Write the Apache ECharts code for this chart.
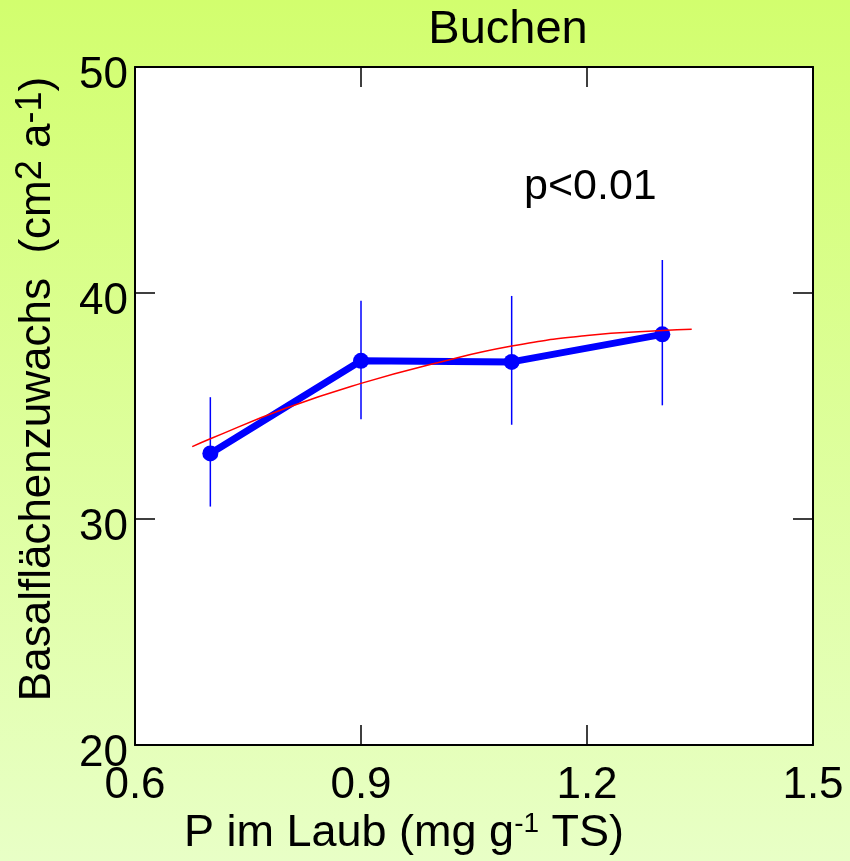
<!DOCTYPE html>
<html>
<head>
<meta charset="utf-8">
<script src="https://cdn.jsdelivr.net/npm/echarts@6/dist/echarts.min.js"></script>
<style>
  html, body { margin: 0; padding: 0; }
  body { width: 850px; height: 861px; background: linear-gradient(#d2fe6e, #e8ffc6); }
  #chart { width: 850px; height: 861px; }
</style>
</head>
<body>
<div id="chart"></div>
<script>
// P im Laub vs. Basalflächenzuwachs (Buchen)
const pLaub = [0.7, 0.9, 1.1, 1.3];
const zuwachs = [32.9, 37.0, 36.95, 38.17];
const errLow = [30.55, 34.41, 34.17, 35.03];
const errHigh = [35.39, 39.66, 39.87, 41.46];
const fitX = [0.676, 0.7, 0.8, 0.9, 1.0, 1.1, 1.2, 1.3, 1.339];
const fitY = [33.2, 33.55, 34.9, 36.0, 36.9, 37.65, 38.12, 38.34, 38.4];
const xTicks = [0.6, 0.9, 1.2, 1.5];
const yTicks = [20, 30, 40, 50];

const font = "'Liberation Sans', Arial, sans-serif";
const chart = echarts.init(document.getElementById("chart"), null, { renderer: "canvas" });

const frame = {
  axisLine: { show: true, onZero: false, lineStyle: { color: "#000", width: 2 } },
  axisTick: { show: true, inside: true, length: 20, lineStyle: { color: "#000", width: 1.5 } },
  splitLine: { show: false },
};

chart.setOption({
  animation: false,
  backgroundColor: "transparent",
  grid: { left: 135, right: 37, top: 67, bottom: 116, show: true, backgroundColor: "#fff", borderWidth: 0 },
  title: {
    text: "Buchen", left: 503, top: 2, textAlign: "center",
    textStyle: { fontFamily: font, fontSize: 47, fontWeight: "normal", color: "#000" },
  },
  xAxis: [
    {
      type: "value", position: "bottom", min: xTicks[0], max: xTicks[3], interval: 0.3, ...frame,
      axisLabel: { fontFamily: font, fontSize: 44, color: "#000", margin: 19, formatter: (v) => v.toFixed(1) },
    },
    { type: "value", position: "top", min: xTicks[0], max: xTicks[3], interval: 0.3, ...frame, axisLabel: { show: false } },
  ],
  yAxis: [
    {
      type: "value", position: "left", min: yTicks[0], max: yTicks[3], interval: 10, ...frame,
      axisLabel: { fontFamily: font, fontSize: 44, color: "#000", margin: 7, verticalAlign: "top", lineHeight: 18 },
    },
    { type: "value", position: "right", min: yTicks[0], max: yTicks[3], interval: 10, ...frame, axisLabel: { show: false } },
  ],
  graphic: [
    {
      type: "text", left: 524, top: 166, z: 100,
      style: { text: "p<0.01", font: "43px " + font, fill: "#000" },
    },
    {
      type: "text", x: 404, y: 834, z: 100,
      style: {
        text: "P im Laub (mg g{s|-1} TS)", font: "45px " + font, fill: "#000",
        align: "center", verticalAlign: "middle",
        rich: { s: { fontFamily: font, fontSize: 28, padding: [0, 0, 20, 0] } },
      },
    },
    {
      type: "text", x: 38, y: 389, rotation: Math.PI / 2, z: 100,
      style: {
        text: "Basalflächenzuwachs  (cm{s|2} a{s|-1})", font: "44px " + font, fill: "#000",
        align: "center", verticalAlign: "middle",
        rich: { s: { fontFamily: font, fontSize: 36, padding: [0, 0, 14, 0] } },
      },
    },
  ],
  series: [
    {
      type: "custom",
      name: "Fehler",
      data: pLaub.map((x, i) => [x, errLow[i], errHigh[i]]),
      renderItem: (params, api) => {
        const lo = api.coord([api.value(0), api.value(1)]);
        const hi = api.coord([api.value(0), api.value(2)]);
        return {
          type: "line",
          shape: { x1: lo[0], y1: lo[1], x2: hi[0], y2: hi[1] },
          style: { stroke: "#0000ff", lineWidth: 1.5 },
        };
      },
      z: 2,
    },
    {
      type: "line",
      name: "Mittelwert",
      data: pLaub.map((x, i) => [x, zuwachs[i]]),
      symbol: "circle",
      symbolSize: 16,
      itemStyle: { color: "#0000ff" },
      lineStyle: { color: "#0000ff", width: 7 },
      z: 3,
    },
    {
      type: "line",
      name: "Anpassung",
      data: fitX.map((x, i) => [x, fitY[i]]),
      showSymbol: false,
      smooth: true,
      lineStyle: { color: "#ff0000", width: 1.5 },
      z: 4,
    },
  ],
});
</script>
</body>
</html>
